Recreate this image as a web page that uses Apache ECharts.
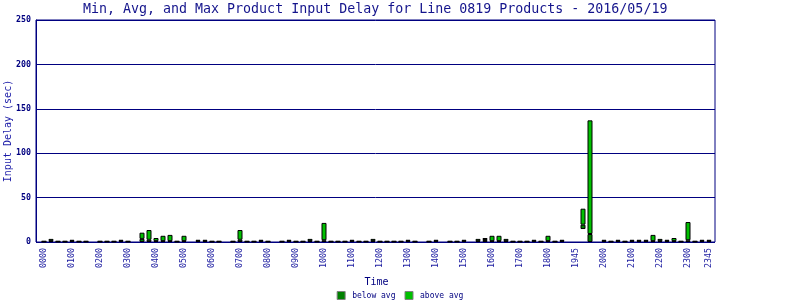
<!DOCTYPE html>
<html>
<head>
<meta charset="utf-8">
<script src="https://cdn.jsdelivr.net/npm/echarts@6/dist/echarts.min.js"></script>
<style>html,body{margin:0;padding:0;background:#fff;}#c{width:800px;height:300px;}</style>
</head>
<body>
<div id="c"></div>
<script>
// 15-minute time slots (categories)
const timeSlots = [
 '0000','0015','0030','0045','0100','0115','0130','0145','0200','0215','0230','0245',
 '0300','0315','0330','0345','0400','0415','0430','0445','0500','0515','0530','0545',
 '0600','0615','0630','0645','0700','0715','0730','0745','0800','0815','0830','0845',
 '0900','0915','0930','0945','1000','1015','1030','1045','1100','1115','1130','1145',
 '1200','1215','1230','1245','1300','1315','1330','1345','1400','1415','1430','1445',
 '1500','1515','1530','1545','1600','1615','1630','1645','1700','1715','1730','1745',
 '1800','1815','1830','1845','1900','1915','1930','1945','2000','2015','2030','2045',
 '2100','2115','2130','2145','2200','2215','2230','2245','2300','2315','2330','2345'
];
// shown tick labels and the category index they sit on
const tickIndex  = [0,4,8,12,16,20,24,28,32,36,40,44,48,52,56,60,64,68,72,76,80,84,88,92,95];
const tickLabels = ['0000','0100','0200','0300','0400','0500','0600','0700','0800','0900','1000','1100',
 '1200','1300','1400','1500','1600','1700','1800','1945','2000','2100','2200','2300','2345'];

// per-slot delays (sec); null = no products
const minDelay = [
 0,0,0,0,0,0,0,null,0,0,0,0,
 0,null,0,0,0,0,0,0,0,null,0,0,
 0,0,null,0,0,0,0,0,0,null,0,0,
 0,0,0,0,0,0,0,0,0,0,0,0,
 0,0,0,0,0,0,null,0,0,null,0,0,
 0,null,0,0,0,0,0,0,0,0,0,0,
 0,0,0,null,null,14.6,0,null,0,0,0,0,
 0,0,0,0,0,0,0,0,0,0,0,0
];
const avgDelay = [
 0.5,1,0.5,0.5,1,0.5,0.5,null,0.5,0.5,0.5,1,
 0.5,null,3.5,2.5,1,1,1,0.5,1,null,1,1,
 0.5,0.5,null,0.5,2.5,0.5,0.5,1,0.5,null,0.5,1,
 0.5,0.5,1,0.5,2,0.5,0.5,0.5,1,0.5,0.5,1,
 0.5,0.5,0.5,0.5,1,0.5,null,0.5,1,null,0.5,0.5,
 1,null,1,2.2,1,1,1,0.5,0.5,0.5,1,0.5,
 1,0.5,1,null,null,19.5,9,null,1,0.5,1,0.5,
 1,1,1,1,1,1,1,0.5,2,0.5,1,1
];
const maxDelay = [
 1,3.5,1,1,2.5,1,1,null,1,1,1,2.5,
 1,null,10.5,13.5,4.5,7,8,1,7,null,2.5,2.5,
 1,1,null,1,13.5,1,1,2.5,1,null,1,2.5,
 1,1,3.5,1,21.5,1,1,1,2.5,1,1,3.5,
 1,1,1,1,2.5,1,null,1,2.5,null,1,1,
 2.5,null,3.5,4.5,7,7,3.5,1,1,1,2.5,1,
 7,1,2.5,null,null,37.5,137,null,2.5,1,2.5,1,
 2.5,2.5,2.5,8,3.5,2.5,4.5,1,22.5,1,2.5,2.5
];
const yTicks = [0, 50, 100, 150, 200, 250];

const navy = '#000080';
const mono = 'DejaVu Sans Mono';
const baseVals  = minDelay;
const belowVals = avgDelay.map((a, i) => a == null ? null : a - minDelay[i]);
const aboveVals = maxDelay.map((m, i) => m == null ? null : m - avgDelay[i]);

const chart = echarts.init(document.getElementById('c'), null, {renderer: 'canvas'});
chart.setOption({
  animation: false,
  backgroundColor: '#fff',
  title: {
    text: 'Min, Avg, and Max Product Input Delay for Line 0819 Products - 2016/05/19',
    left: 83, top: 3, padding: 0,
    textStyle: {fontFamily: mono, fontSize: 13.3, fontWeight: 'normal', color: '#14148c'}
  },
  legend: {
    data: ['below avg', 'above avg'],
    left: 'center', top: 291, padding: 0,
    itemWidth: 8, itemHeight: 8, itemGap: 9,
    icon: 'rect',
    itemStyle: {borderColor: '#808080', borderWidth: 1},
    textStyle: {fontFamily: mono, fontSize: 8, color: navy, padding: [0, 0, 0, 2]}
  },
  grid: [
    {left: 36, right: 85, top: 20, bottom: 58, show: true, borderColor: navy, borderWidth: 1,
     backgroundColor: 'transparent', containLabel: false, outerBoundsMode: 'none'},
    {left: 40.5, width: 672, top: 20, bottom: 58, containLabel: false, outerBoundsMode: 'none'}
  ],
  xAxis: [
    {gridIndex: 0, type: 'category', data: [''], show: false},
    {
      gridIndex: 1, type: 'category', data: timeSlots,
      axisLine: {show: false}, axisTick: {show: false},
      axisLabel: {
        rotate: 90, margin: 6,
        fontFamily: mono, fontSize: 8.3, color: '#1a1aa0',
        interval: (idx) => tickIndex.indexOf(idx) >= 0,
        formatter: (v, idx) => { const k = tickIndex.indexOf(idx); return k >= 0 ? tickLabels[k] : ''; }
      },
      name: 'Time', nameLocation: 'middle', nameGap: 35, nameMoveOverlap: false,
      nameTextStyle: {fontFamily: mono, fontSize: 10, color: navy}
    }
  ],
  yAxis: [
    {
      gridIndex: 0, type: 'value', min: yTicks[0], max: yTicks[yTicks.length - 1], interval: 50,
      axisLine: {show: true, lineStyle: {color: navy, width: 1}},
      axisTick: {show: false},
      splitLine: {show: true, lineStyle: {color: navy, width: 1}},
      axisLabel: {fontFamily: mono, fontSize: 8.3, fontWeight: 'bold', color: navy, margin: 5},
      name: 'Input Delay (sec)', nameLocation: 'middle', nameGap: 23, nameMoveOverlap: false,
      nameTextStyle: {fontFamily: mono, fontSize: 10, color: '#1c1ca8'}
    },
    {gridIndex: 1, type: 'value', min: 0, max: 250, show: false}
  ],
  series: [
    {name: 'min', type: 'bar', stack: 'd', xAxisIndex: 1, yAxisIndex: 1, barWidth: 5,
     data: baseVals, itemStyle: {color: 'rgba(0,0,0,0)', borderWidth: 0}, silent: true},
    {name: 'below avg', type: 'bar', stack: 'd', xAxisIndex: 1, yAxisIndex: 1, barWidth: 5,
     data: belowVals, itemStyle: {color: '#008000', borderColor: '#000', borderWidth: 1}},
    {name: 'above avg', type: 'bar', stack: 'd', xAxisIndex: 1, yAxisIndex: 1, barWidth: 5,
     data: aboveVals, itemStyle: {color: '#00c000', borderColor: '#000', borderWidth: 1}}
  ]
});
</script>
</body>
</html>
